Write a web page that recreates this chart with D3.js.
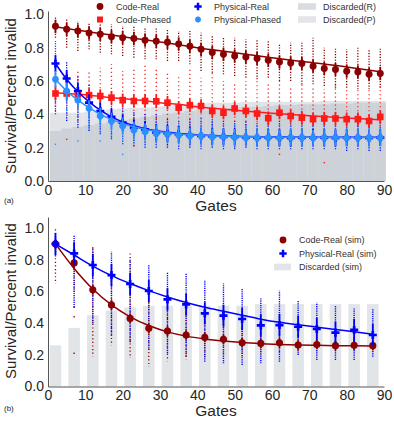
<!DOCTYPE html>
<html>
<head>
<meta charset="utf-8">
<script src="https://d3js.org/d3.v7.min.js"></script>
<style>
  body { margin: 0; background: #fff; }
  svg text { font-family: "Liberation Sans", Arial, sans-serif; fill: #262626; }
  .tick text { font-size: 14px; }
  .leg text { font-size: 9px; fill: #333; }
</style>
</head>
<body>
<svg width="394" height="422"></svg>
<script>
// ---- panel (a): experiment ----
var gatesA = [2,5,8,11,14,17,20,23,26,29,32,35,38,41,44,47,50,53,56,59,62,65,68,71,74,77,80,83,86,89];
var codeReal = [0.928,0.910,0.900,0.888,0.880,0.866,0.860,0.855,0.845,0.838,0.832,0.822,0.808,0.790,0.771,0.760,0.750,0.744,0.735,0.725,0.714,0.708,0.705,0.689,0.675,0.669,0.659,0.654,0.641,0.645];
var codeRealHi = [0.99,0.97,0.96,0.95,0.95,0.94,0.93,0.93,0.92,0.92,0.91,0.90,0.90,0.89,0.87,0.86,0.86,0.85,0.85,0.84,0.82,0.83,0.83,0.86,0.80,0.80,0.79,0.80,0.79,0.80];
var codeRealLo = [0.86,0.80,0.78,0.79,0.77,0.76,0.75,0.74,0.73,0.73,0.72,0.72,0.70,0.66,0.65,0.64,0.63,0.62,0.61,0.62,0.60,0.60,0.58,0.58,0.57,0.56,0.56,0.55,0.55,0.56];
var codePhased = [0.525,0.525,0.52,0.515,0.51,0.50,0.485,0.48,0.48,0.478,0.47,0.44,0.455,0.45,0.42,0.41,0.435,0.42,0.405,0.377,0.41,0.39,0.38,0.371,0.375,0.375,0.371,0.371,0.36,0.385];
var codePhasedHi = [0.64,0.62,0.66,0.66,0.68,0.70,0.66,0.68,0.70,0.68,0.66,0.63,0.67,0.62,0.65,0.60,0.58,0.60,0.62,0.58,0.60,0.56,0.58,0.57,0.55,0.58,0.56,0.55,0.55,0.58];
var codePhasedLo = [0.42,0.40,0.36,0.38,0.34,0.36,0.32,0.30,0.30,0.30,0.30,0.28,0.30,0.28,0.28,0.26,0.26,0.26,0.28,0.26,0.26,0.26,0.26,0.26,0.26,0.26,0.25,0.25,0.25,0.25];
var codePhasedOut = [[5,0.25],[23,0.21],[62,0.16],[74,0.11]];
var physReal = [0.705,0.615,0.54,0.47,0.42,0.385,0.35,0.32,0.31,0.29,0.285,0.28,0.275,0.27,0.268,0.265,0.265,0.262,0.26,0.262,0.26,0.258,0.26,0.262,0.26,0.258,0.26,0.26,0.258,0.26];
var physRealHi = [0.84,0.72,0.63,0.58,0.52,0.47,0.44,0.42,0.41,0.40,0.38,0.37,0.38,0.38,0.37,0.36,0.36,0.36,0.35,0.36,0.36,0.35,0.35,0.35,0.35,0.34,0.35,0.35,0.34,0.35];
var physRealLo = [0.40,0.36,0.32,0.30,0.28,0.25,0.22,0.21,0.20,0.20,0.20,0.19,0.20,0.19,0.20,0.19,0.19,0.20,0.19,0.19,0.19,0.19,0.19,0.19,0.19,0.19,0.18,0.19,0.18,0.18];
var physPhased = [0.61,0.54,0.485,0.435,0.39,0.36,0.33,0.305,0.295,0.285,0.28,0.275,0.27,0.27,0.265,0.265,0.262,0.26,0.26,0.26,0.258,0.26,0.26,0.258,0.26,0.26,0.258,0.26,0.26,0.26];
var physPhasedHi = [0.76,0.66,0.58,0.52,0.48,0.44,0.42,0.40,0.38,0.37,0.36,0.36,0.35,0.35,0.35,0.34,0.34,0.34,0.34,0.34,0.34,0.34,0.34,0.34,0.34,0.34,0.34,0.34,0.34,0.34];
var physPhasedLo = [0.44,0.38,0.34,0.30,0.28,0.25,0.23,0.22,0.21,0.21,0.20,0.20,0.20,0.20,0.20,0.20,0.19,0.20,0.20,0.20,0.20,0.20,0.20,0.20,0.20,0.20,0.20,0.20,0.20,0.20];
var physPhasedOut = [[2,0.22],[8,0.24],[14,0.24],[20,0.16]];
var discR = [0.30,0.315,0.325,0.335,0.345,0.355,0.365,0.375,0.385,0.395,0.405,0.41,0.42,0.425,0.43,0.435,0.44,0.445,0.445,0.45,0.455,0.455,0.46,0.46,0.46,0.465,0.465,0.47,0.47,0.47];
var discP = [0.41,0.41,0.41,0.415,0.42,0.43,0.435,0.44,0.44,0.445,0.45,0.455,0.46,0.465,0.47,0.47,0.47,0.475,0.475,0.475,0.475,0.475,0.475,0.475,0.48,0.48,0.48,0.48,0.48,0.48];
// fitted curves (a)
var fitGatesA = [2,5,8,11,14,17,20,25,30,35,40,50,60,70,80,89];
var codeRealFit = [0.925,0.915,0.905,0.895,0.885,0.876,0.866,0.850,0.834,0.818,0.80,0.77,0.74,0.712,0.684,0.655];
var codePhasedFit = [0.53,0.525,0.52,0.515,0.508,0.50,0.495,0.485,0.47,0.46,0.445,0.425,0.407,0.392,0.378,0.367];
var physRealFit = [0.705,0.61,0.535,0.475,0.425,0.385,0.355,0.32,0.298,0.285,0.277,0.268,0.265,0.263,0.262,0.262];
var physPhasedFit = [0.61,0.54,0.485,0.44,0.40,0.37,0.345,0.315,0.295,0.282,0.275,0.267,0.264,0.262,0.261,0.261];

// ---- panel (b): simulation ----
var gatesB = [2,7,12,17,22,27,32,37,42,47,52,57,62,67,72,77,82,87];
var codeSim = [0.90,0.78,0.61,0.515,0.43,0.367,0.35,0.325,0.31,0.298,0.276,0.272,0.276,0.262,0.265,0.258,0.26,0.258];
var codeSimHi = [1.0,0.92,0.88,0.69,0.85,0.60,0.50,0.47,0.42,0.43,0.38,0.36,0.36,0.34,0.33,0.33,0.32,0.32];
var codeSimLo = [0.65,0.58,0.19,0.26,0.18,0.125,0.16,0.17,0.18,0.19,0.19,0.20,0.20,0.21,0.22,0.22,0.22,0.22];
var codeSimOut = [[7,0.50],[7,0.44],[7,0.21]];
var physSim = [0.90,0.84,0.767,0.703,0.647,0.603,0.55,0.518,0.462,0.447,0.426,0.386,0.388,0.377,0.363,0.34,0.357,0.325];
var physSimHi = [0.95,0.955,0.88,0.85,0.80,0.77,0.724,0.714,0.672,0.65,0.62,0.556,0.605,0.546,0.53,0.508,0.493,0.487];
var physSimLo = [0.82,0.50,0.40,0.32,0.28,0.23,0.21,0.19,0.157,0.146,0.136,0.146,0.157,0.199,0.167,0.167,0.167,0.188];
var discSim = [0.26,0.37,0.45,0.48,0.50,0.51,0.51,0.51,0.51,0.51,0.51,0.52,0.52,0.52,0.52,0.52,0.52,0.52];
var codeSimFit = [0.90,0.745,0.615,0.515,0.44,0.385,0.345,0.318,0.30,0.287,0.277,0.27,0.265,0.262,0.26,0.258,0.257,0.256];
var physSimFit = [0.90,0.83,0.76,0.70,0.65,0.605,0.565,0.53,0.50,0.475,0.45,0.425,0.405,0.39,0.375,0.36,0.345,0.33];

var xTicks = [0,10,20,30,40,50,60,70,80,90];
var yTicks = [0,0.2,0.4,0.6,0.8,1.0];

var cDark = "#8b0000", cRed = "#ff1a1a", cBlue = "#0000ff", cLight = "#2b8fff";

var svg = d3.select("svg");
svg.append("rect").attr("width", 394).attr("height", 422).attr("fill", "#fff");

var x = d3.scaleLinear().domain([0, 90]).range([48, 384]);
var yA = d3.scaleLinear().domain([0, 1.02]).range([181, 11]);
var yB = d3.scaleLinear().domain([0, 1.07]).range([386.5, 217]);

function axes(y, bottom, labelY) {
    var gy = svg.append("g").attr("transform", "translate(48,0)")
        .call(d3.axisLeft(y).tickValues(yTicks).tickFormat(d3.format(".1f")).tickSize(0).tickSizeOuter(0).tickPadding(4));
    var gx = svg.append("g").attr("transform", "translate(0," + bottom + ")")
        .call(d3.axisBottom(x).tickValues(xTicks).tickSize(0).tickSizeOuter(0).tickPadding(4));
    [gx, gy].forEach(function (g) {
        g.select(".domain").attr("stroke", "#555").attr("stroke-width", 1);
        g.selectAll(".tick text").attr("fill", "#262626");
    });
    svg.append("text").attr("x", 216).attr("y", bottom + 29.5)
        .attr("text-anchor", "middle").style("font-size", "15.5px").text("Gates");
    svg.append("text").attr("transform", "translate(16," + labelY + ") rotate(-90)")
        .attr("text-anchor", "middle").style("font-size", "15px").text("Survival/Percent invalid");
}

function columns(g, y, gates, lo, hi, color, dash, w, off) {
    g.selectAll(null).data(gates).enter().append("line")
        .attr("x1", function (d) { return x(d); }).attr("x2", function (d) { return x(d); })
        .attr("y1", function (d, i) { return y(lo[i]); })
        .attr("y2", function (d, i) { return y(hi[i]); })
        .attr("stroke", color).attr("stroke-width", w)
        .attr("stroke-dasharray", dash).attr("stroke-dashoffset", off || 0);
}

function outliers(g, y, pts, color) {
    g.selectAll(null).data(pts).enter().append("rect")
        .attr("x", function (d) { return x(d[0]) - 0.7; })
        .attr("y", function (d) { return y(d[1]) - 0.7; })
        .attr("width", 1.4).attr("height", 1.4).attr("fill", color);
}

function series(g, y, gates, vals, sd, fitX, fitY, color, shape, size) {
    var line = d3.line().x(function (d) { return x(d); })
        .y(function (d, i) { return y(fitY[i]); }).curve(d3.curveMonotoneX);
    g.append("path").attr("d", line(fitX)).attr("fill", "none")
        .attr("stroke", color).attr("stroke-width", 1.5);
    g.selectAll(null).data(gates).enter().append("line")
        .attr("x1", function (d) { return x(d); }).attr("x2", function (d) { return x(d); })
        .attr("y1", function (d, i) { return y(vals[i] - sd); })
        .attr("y2", function (d, i) { return y(vals[i] + sd); })
        .attr("stroke", color).attr("stroke-width", 1.8);
    g.selectAll(null).data(gates).enter().append("g")
        .attr("transform", function (d, i) { return "translate(" + x(d) + "," + y(vals[i]) + ")"; })
        .each(function () { marker(d3.select(this), shape, color, size); });
}

function marker(sel, shape, color, size) {
    if (shape === "star") {
        sel.append("path").attr("d", d3.symbol().type(d3.symbolCross).size(size)()).attr("fill", color);
        sel.append("path").attr("d", d3.symbol().type(d3.symbolCross).size(size)())
            .attr("transform", "rotate(45)").attr("fill", color);
    } else {
        var t = shape === "circle" ? d3.symbolCircle : shape === "square" ? d3.symbolSquare : d3.symbolCross;
        sel.append("path").attr("d", d3.symbol().type(t).size(size)()).attr("fill", color);
    }
}

// ================= panel (a) =================
var ga = svg.append("g");
var bw = x(3) - x(0);
ga.selectAll(null).data(gatesA).enter().append("rect")
    .attr("x", function (d) { return x(d) - bw / 2; }).attr("width", bw)
    .attr("y", function (d, i) { return yA(discP[i]); })
    .attr("height", function (d, i) { return yA(0) - yA(discP[i]); })
    .attr("fill", "#e0e3e7");
ga.selectAll(null).data(gatesA).enter().append("rect")
    .attr("x", function (d) { return x(d) - bw / 2; }).attr("width", bw)
    .attr("y", function (d, i) { return yA(discR[i]); })
    .attr("height", function (d, i) { return yA(0) - yA(discR[i]); })
    .attr("fill", "#b5bcc5").attr("fill-opacity", 0.45);

columns(ga, yA, gatesA, codeRealLo, codeRealHi, cDark, "1.2,1.5", 1.3);
columns(ga, yA, gatesA, codePhasedLo, codePhasedHi, cRed, "1.2,2.8", 1.3);
columns(ga, yA, gatesA, physRealLo, physRealHi, cBlue, "1.2,1.3", 1.3);
columns(ga, yA, gatesA, physPhasedLo, physPhasedHi, cLight, "1.2,1.3", 1.3, 1.2);
outliers(ga, yA, codePhasedOut, cRed);
outliers(ga, yA, physPhasedOut, cLight);

series(ga, yA, gatesA, codeReal, 0.04, fitGatesA, codeRealFit, cDark, "circle", 38);
series(ga, yA, gatesA, codePhased, 0.04, fitGatesA, codePhasedFit, cRed, "square", 44);
series(ga, yA, gatesA, physReal, 0.05, fitGatesA, physRealFit, cBlue, "plus", 36);
series(ga, yA, gatesA, physPhased, 0.05, fitGatesA, physPhasedFit, cLight, "star", 26);

axes(yA, 181, 96);
svg.append("text").attr("x", 4).attr("y", 203).style("font-size", "8px").text("(a)");

// legend (a)
var la = svg.append("g").attr("class", "leg");
[["Code-Real", "circle", cDark, 100, 6.5], ["Code-Phased", "square", cRed, 100, 19.5],
 ["Physical-Real", "plus", cBlue, 198, 6.5], ["Physical-Phased", "star", cLight, 198, 19.5]]
.forEach(function (e) {
    var m = la.append("g").attr("transform", "translate(" + e[3] + "," + e[4] + ")");
    marker(m, e[1], e[2], e[1] === "star" ? 20 : e[1] === "plus" ? 30 : 36);
    la.append("text").attr("x", e[3] + 16).attr("y", e[4] + 3.3).text(e[0]);
});
la.append("rect").attr("x", 298).attr("y", 3.2).attr("width", 18).attr("height", 6.6).attr("fill", "#d9dce1");
la.append("text").attr("x", 323).attr("y", 9.8).text("Discarded(R)");
la.append("rect").attr("x", 298).attr("y", 16.2).attr("width", 18).attr("height", 6.6).attr("fill", "#e3e5e9");
la.append("text").attr("x", 323).attr("y", 22.8).text("Discarded(P)");

// ================= panel (b) =================
var gb = svg.append("g");
var bwB = x(3.1) - x(0);
gb.selectAll(null).data(gatesB).enter().append("rect")
    .attr("x", function (d) { return x(d) - bwB / 2; }).attr("width", bwB)
    .attr("y", function (d, i) { return yB(discSim[i]); })
    .attr("height", function (d, i) { return yB(0) - yB(discSim[i]); })
    .attr("fill", "#e2e5e8");

columns(gb, yB, gatesB, physSimLo, physSimHi, cBlue, "1.2,1.0", 1.4);
columns(gb, yB, gatesB, codeSimLo, codeSimHi, cDark, "1.2,2.4", 1.3, 1);
outliers(gb, yB, codeSimOut, cDark);

series(gb, yB, gatesB, codeSim, 0.03, gatesB, codeSimFit, cDark, "circle", 40);
series(gb, yB, gatesB, physSim, 0.07, gatesB, physSimFit, cBlue, "plus", 36);

axes(yB, 386.5, 301);
svg.append("text").attr("x", 4).attr("y", 411).style("font-size", "8px").text("(b)");

// legend (b)
var lb = svg.append("g").attr("class", "leg");
[["Code-Real (sim)", "circle", cDark, 283, 240], ["Physical-Real (sim)", "plus", cBlue, 283, 253.5]]
.forEach(function (e) {
    var m = lb.append("g").attr("transform", "translate(" + e[3] + "," + e[4] + ")");
    marker(m, e[1], e[2], e[1] === "plus" ? 30 : 36);
    lb.append("text").attr("x", 299).attr("y", e[4] + 3.3).text(e[0]);
});
lb.append("rect").attr("x", 274).attr("y", 263.6).attr("width", 17).attr("height", 6.8).attr("fill", "#e2e5e8");
lb.append("text").attr("x", 299).attr("y", 270.3).text("Discarded (sim)");
</script>
</body>
</html>
